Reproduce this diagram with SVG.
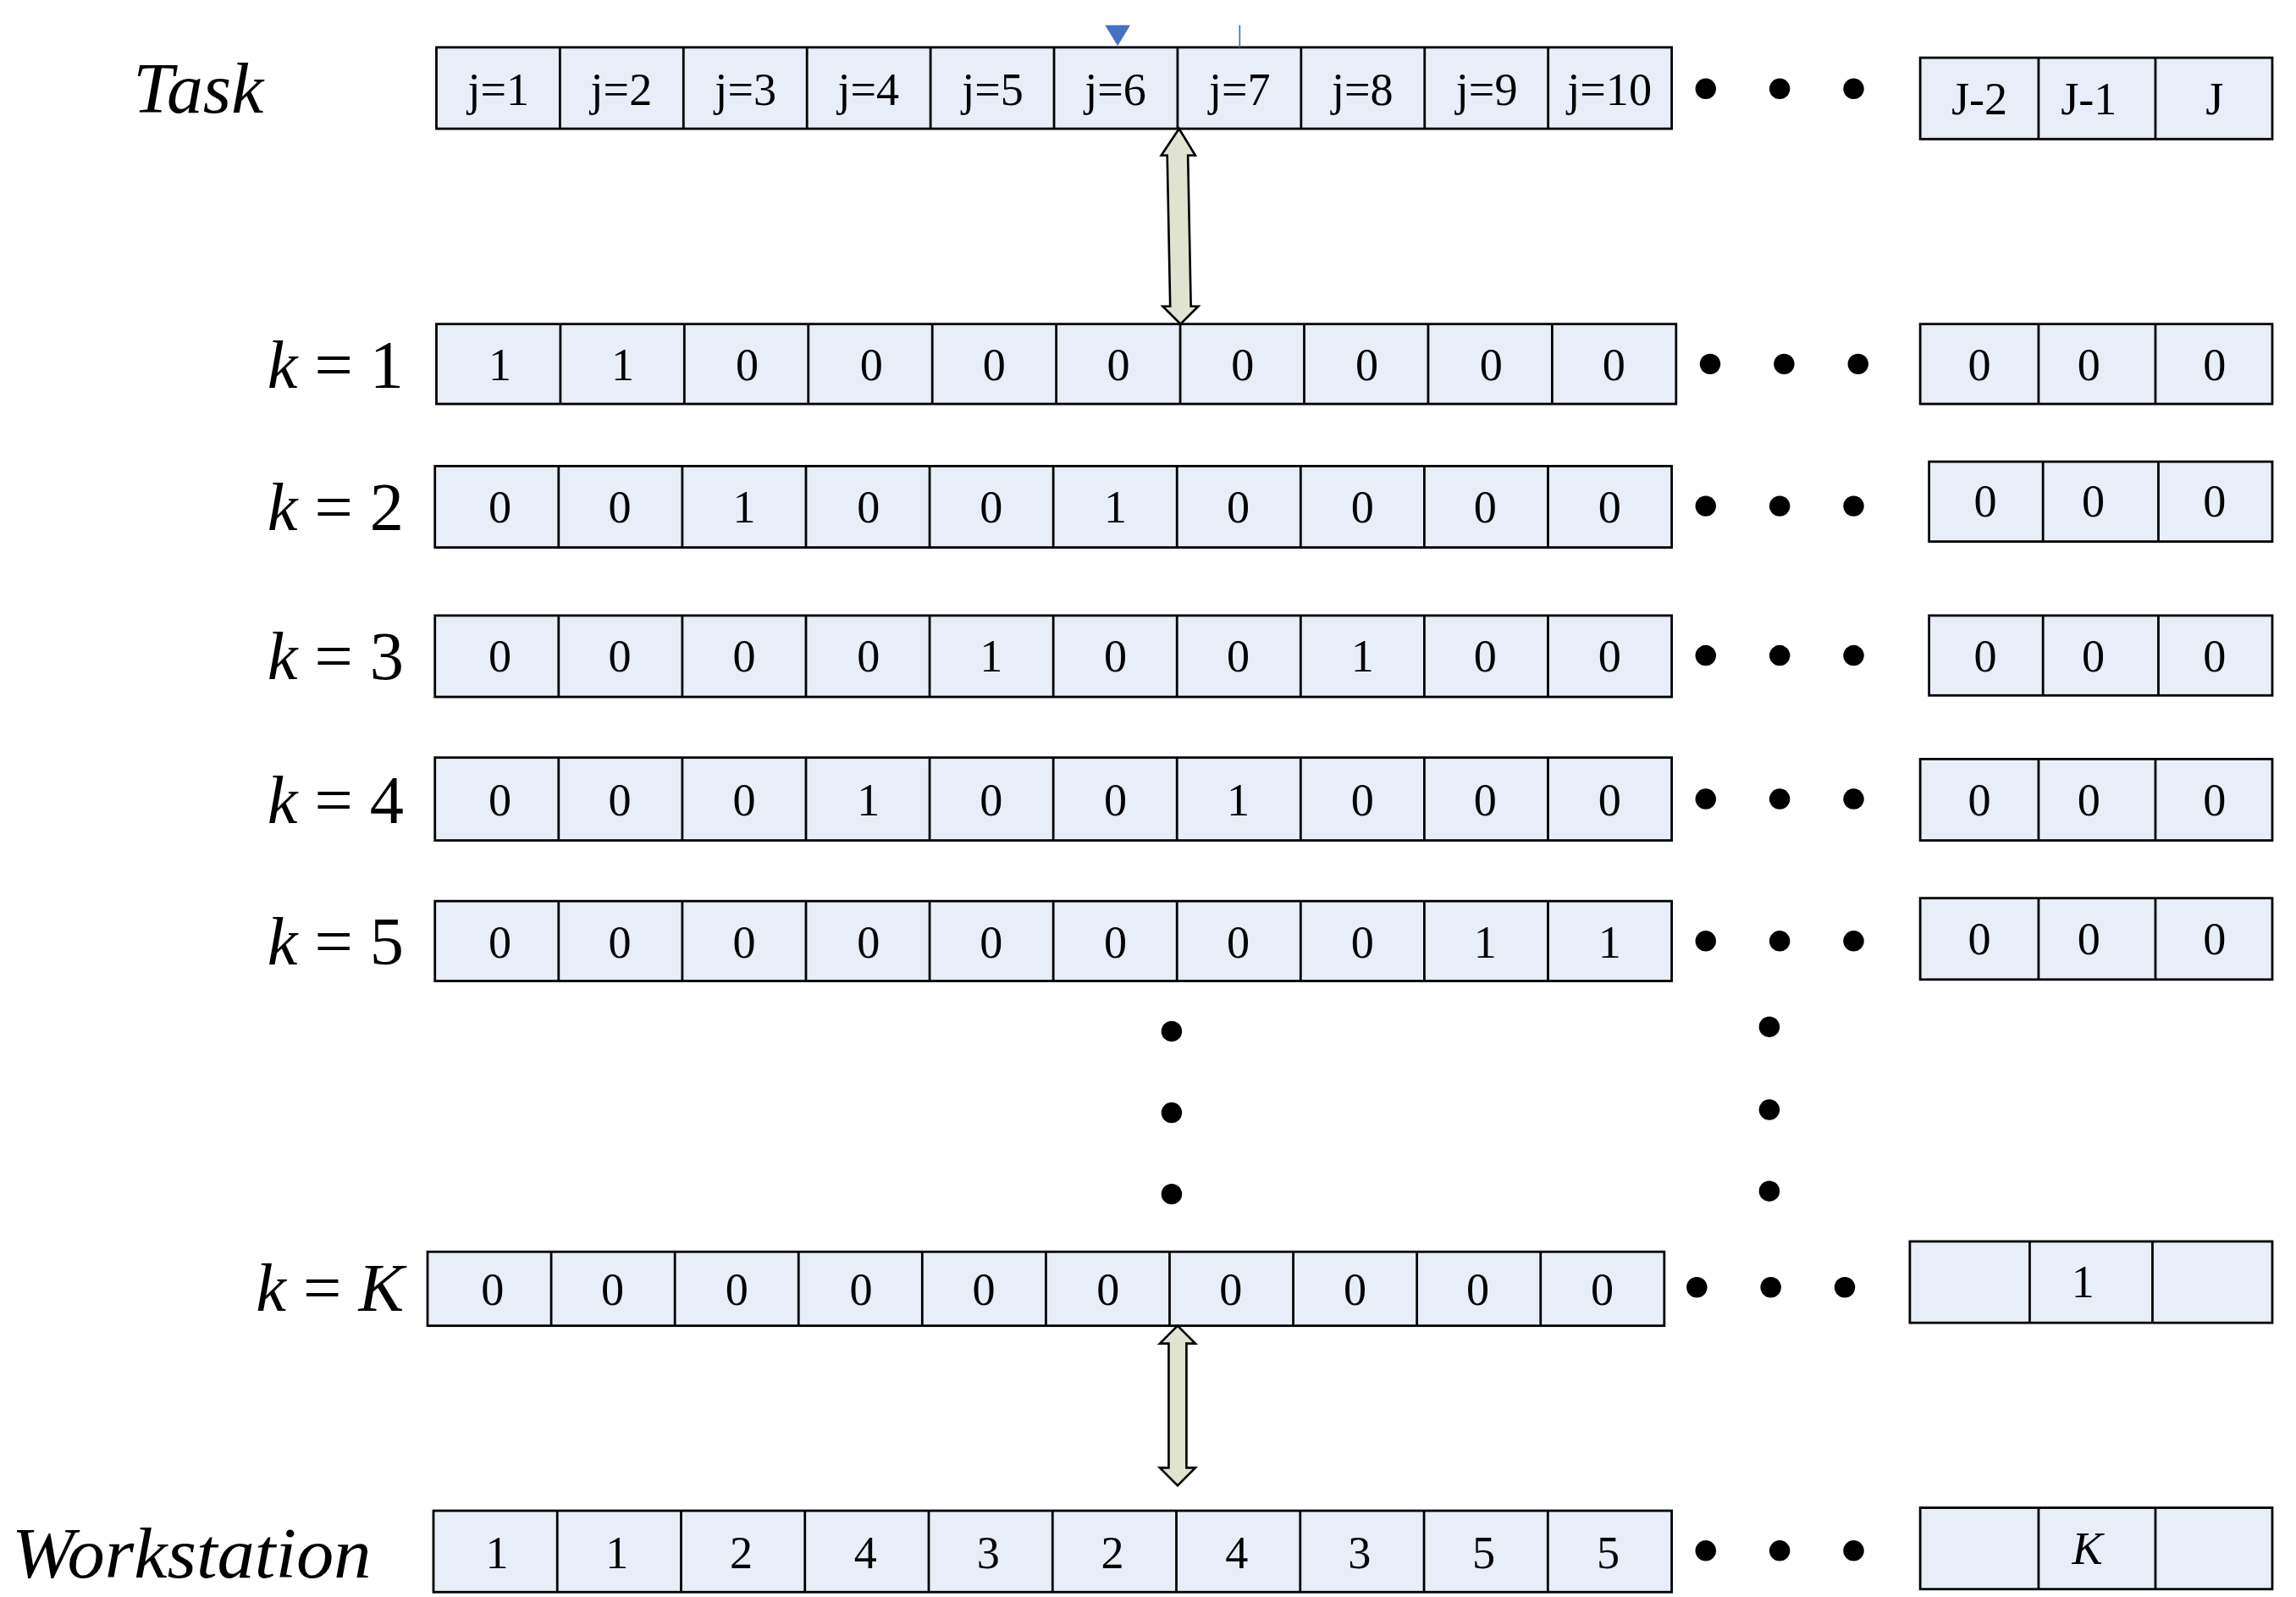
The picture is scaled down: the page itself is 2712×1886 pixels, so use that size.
<svg xmlns="http://www.w3.org/2000/svg" width="2712" height="1886" viewBox="0 0 2712 1886">
<style>
.c{fill:#e8eef8;stroke:#000;stroke-width:1.6}
.t{font-family:"Liberation Serif",serif;font-size:31px;text-anchor:middle}
.lab{font-family:"Liberation Serif",serif;font-size:46px;text-anchor:end}
.big{font-family:"Liberation Serif",serif;font-size:49px;font-style:italic}
.d{fill:#000}
.arr{fill:#dfe3cf;stroke:#000;stroke-width:1.5}
</style>
<rect width="2712" height="1886" fill="#fff"/>
<g transform="scale(1.7474)">
<g id="labels">
<text class="big" x="90" y="76">Task</text>
<text class="lab" x="273" y="262"><tspan font-style="italic">k</tspan> = 1</text>
<text class="lab" x="273" y="358"><tspan font-style="italic">k</tspan> = 2</text>
<text class="lab" x="273" y="459"><tspan font-style="italic">k</tspan> = 3</text>
<text class="lab" x="273" y="556"><tspan font-style="italic">k</tspan> = 4</text>
<text class="lab" x="273" y="652"><tspan font-style="italic">k</tspan> = 5</text>
<text class="lab" x="273" y="886"><tspan font-style="italic">k</tspan> = <tspan font-style="italic">K</tspan></text>
<text class="big" x="8" y="1066" textLength="243" lengthAdjust="spacingAndGlyphs">Workstation</text>
</g>
<g id="task-row">
<rect class="c" x="295" y="32" width="835" height="55"/>
<path d="M378.5 32V87M462 32V87M545.5 32V87M629 32V87M712.5 32V87M796 32V87M879.5 32V87M963 32V87M1046.5 32V87" stroke="#000" stroke-width="1.6"/>
<g class="t"><text x="337" y="71">j=1</text><text x="420" y="71">j=2</text><text x="504" y="71">j=3</text><text x="587" y="71">j=4</text><text x="671" y="71">j=5</text><text x="754" y="71">j=6</text><text x="838" y="71">j=7</text><text x="921" y="71">j=8</text><text x="1005" y="71">j=9</text><text x="1088" y="71">j=10</text></g>
<rect class="c" x="1298" y="39" width="238" height="55"/>
<path d="M1378 39V94M1457 39V94" stroke="#000" stroke-width="1.6"/>
<g class="t"><text x="1338" y="77">J-2</text><text x="1412" y="77">J-1</text><text x="1497" y="77">J</text></g>
<path d="M747 17H764L755.5 31Z" fill="#4472c4"/>
<path d="M838 17V32" stroke="#4472c4" stroke-width="1"/>
</g>
<g id="rows">
<g id="row-k1">
<rect class="c" x="295" y="219" width="838" height="54"/>
<path d="M378.8 219V273M462.6 219V273M546.4 219V273M630.2 219V273M714 219V273M797.8 219V273M881.6 219V273M965.4 219V273M1049.2 219V273" stroke="#000" stroke-width="1.6"/>
<g class="t"><text x="338" y="257">1</text><text x="421" y="257">1</text><text x="505" y="257">0</text><text x="589" y="257">0</text><text x="672" y="257">0</text><text x="756" y="257">0</text><text x="840" y="257">0</text><text x="924" y="257">0</text><text x="1008" y="257">0</text><text x="1091" y="257">0</text></g>
<rect class="c" x="1298" y="219" width="238" height="54"/>
<path d="M1378 219V273M1457 219V273" stroke="#000" stroke-width="1.6"/>
<g class="t"><text x="1338" y="257">0</text><text x="1412" y="257">0</text><text x="1497" y="257">0</text></g>
</g>
<g id="row-k2">
<rect class="c" x="294" y="315" width="836" height="55"/>
<path d="M377.6 315V370M461.2 315V370M544.8 315V370M628.4 315V370M712 315V370M795.6 315V370M879.2 315V370M962.8 315V370M1046.4 315V370" stroke="#000" stroke-width="1.6"/>
<g class="t"><text x="338" y="353">0</text><text x="419" y="353">0</text><text x="503" y="353">1</text><text x="587" y="353">0</text><text x="670" y="353">0</text><text x="754" y="353">1</text><text x="837" y="353">0</text><text x="921" y="353">0</text><text x="1004" y="353">0</text><text x="1088" y="353">0</text></g>
<rect class="c" x="1304" y="312" width="232" height="54"/>
<path d="M1381 312V366M1459 312V366" stroke="#000" stroke-width="1.6"/>
<g class="t"><text x="1342" y="349">0</text><text x="1415" y="349">0</text><text x="1497" y="349">0</text></g>
</g>
<g id="row-k3">
<rect class="c" x="294" y="416" width="836" height="55"/>
<path d="M377.6 416V471M461.2 416V471M544.8 416V471M628.4 416V471M712 416V471M795.6 416V471M879.2 416V471M962.8 416V471M1046.4 416V471" stroke="#000" stroke-width="1.6"/>
<g class="t"><text x="338" y="454">0</text><text x="419" y="454">0</text><text x="503" y="454">0</text><text x="587" y="454">0</text><text x="670" y="454">1</text><text x="754" y="454">0</text><text x="837" y="454">0</text><text x="921" y="454">1</text><text x="1004" y="454">0</text><text x="1088" y="454">0</text></g>
<rect class="c" x="1304" y="416" width="232" height="54"/>
<path d="M1381 416V470M1459 416V470" stroke="#000" stroke-width="1.6"/>
<g class="t"><text x="1342" y="454">0</text><text x="1415" y="454">0</text><text x="1497" y="454">0</text></g>
</g>
<g id="row-k4">
<rect class="c" x="294" y="512" width="836" height="56"/>
<path d="M377.6 512V568M461.2 512V568M544.8 512V568M628.4 512V568M712 512V568M795.6 512V568M879.2 512V568M962.8 512V568M1046.4 512V568" stroke="#000" stroke-width="1.6"/>
<g class="t"><text x="338" y="551">0</text><text x="419" y="551">0</text><text x="503" y="551">0</text><text x="587" y="551">1</text><text x="670" y="551">0</text><text x="754" y="551">0</text><text x="837" y="551">1</text><text x="921" y="551">0</text><text x="1004" y="551">0</text><text x="1088" y="551">0</text></g>
<rect class="c" x="1298" y="513" width="238" height="55"/>
<path d="M1378 513V568M1457 513V568" stroke="#000" stroke-width="1.6"/>
<g class="t"><text x="1338" y="551">0</text><text x="1412" y="551">0</text><text x="1497" y="551">0</text></g>
</g>
<g id="row-k5">
<rect class="c" x="294" y="609" width="836" height="54"/>
<path d="M377.6 609V663M461.2 609V663M544.8 609V663M628.4 609V663M712 609V663M795.6 609V663M879.2 609V663M962.8 609V663M1046.4 609V663" stroke="#000" stroke-width="1.6"/>
<g class="t"><text x="338" y="647">0</text><text x="419" y="647">0</text><text x="503" y="647">0</text><text x="587" y="647">0</text><text x="670" y="647">0</text><text x="754" y="647">0</text><text x="837" y="647">0</text><text x="921" y="647">0</text><text x="1004" y="647">1</text><text x="1088" y="647">1</text></g>
<rect class="c" x="1298" y="607" width="238" height="55"/>
<path d="M1378 607V662M1457 607V662" stroke="#000" stroke-width="1.6"/>
<g class="t"><text x="1338" y="645">0</text><text x="1412" y="645">0</text><text x="1497" y="645">0</text></g>
</g>
<g id="row-kK">
<rect class="c" x="289" y="846" width="836" height="50"/>
<path d="M372.6 846V896M456.2 846V896M539.8 846V896M623.4 846V896M707 846V896M790.6 846V896M874.2 846V896M957.8 846V896M1041.4 846V896" stroke="#000" stroke-width="1.6"/>
<g class="t"><text x="333" y="882">0</text><text x="414" y="882">0</text><text x="498" y="882">0</text><text x="582" y="882">0</text><text x="665" y="882">0</text><text x="749" y="882">0</text><text x="832" y="882">0</text><text x="916" y="882">0</text><text x="999" y="882">0</text><text x="1083" y="882">0</text></g>
<rect class="c" x="1291" y="839" width="245" height="55"/>
<path d="M1372 839V894M1455 839V894" stroke="#000" stroke-width="1.6"/>
<text class="t" x="1408" y="877">1</text>
</g>
<g id="row-ws">
<rect class="c" x="293" y="1021" width="837" height="55"/>
<path d="M376.7 1021V1076M460.4 1021V1076M544.1 1021V1076M627.8 1021V1076M711.5 1021V1076M795.2 1021V1076M878.9 1021V1076M962.6 1021V1076M1046.3 1021V1076" stroke="#000" stroke-width="1.6"/>
<g class="t"><text x="336" y="1060">1</text><text x="417" y="1060">1</text><text x="501" y="1060">2</text><text x="585" y="1060">4</text><text x="668" y="1060">3</text><text x="752" y="1060">2</text><text x="836" y="1060">4</text><text x="919" y="1060">3</text><text x="1003" y="1060">5</text><text x="1087" y="1060">5</text></g>
<rect class="c" x="1298" y="1019" width="238" height="55"/>
<path d="M1378 1019V1074M1457 1019V1074" stroke="#000" stroke-width="1.6"/>
<text class="t" x="1411" y="1057" font-style="italic">K</text>
</g>
</g>
<g id="dots" class="d">
<circle cx="1153" cy="60" r="7"/><circle cx="1203" cy="60" r="7"/><circle cx="1253" cy="60" r="7"/>
<circle cx="1156" cy="246" r="7"/><circle cx="1206" cy="246" r="7"/><circle cx="1256" cy="246" r="7"/>
<circle cx="1153" cy="342" r="7"/><circle cx="1203" cy="342" r="7"/><circle cx="1253" cy="342" r="7"/>
<circle cx="1153" cy="443" r="7"/><circle cx="1203" cy="443" r="7"/><circle cx="1253" cy="443" r="7"/>
<circle cx="1153" cy="540" r="7"/><circle cx="1203" cy="540" r="7"/><circle cx="1253" cy="540" r="7"/>
<circle cx="1153" cy="636" r="7"/><circle cx="1203" cy="636" r="7"/><circle cx="1253" cy="636" r="7"/>
<circle cx="1147" cy="870" r="7"/><circle cx="1197" cy="870" r="7"/><circle cx="1247" cy="870" r="7"/>
<circle cx="1153" cy="1048" r="7"/><circle cx="1203" cy="1048" r="7"/><circle cx="1253" cy="1048" r="7"/>
<circle cx="792" cy="697" r="7"/><circle cx="792" cy="752" r="7"/><circle cx="792" cy="807" r="7"/>
<circle cx="1196" cy="694" r="7"/><circle cx="1196" cy="750" r="7"/><circle cx="1196" cy="805" r="7"/>
</g>
<g id="connectors">
<path class="arr" d="M797 87L808 105H803L805 207H810L798 219L786 207H791L789 105H785Z"/>
<path class="arr" d="M796 896L808 908H802V992H808L796 1004L784 992H790V908H784Z"/>
</g>
</g>
</svg>
